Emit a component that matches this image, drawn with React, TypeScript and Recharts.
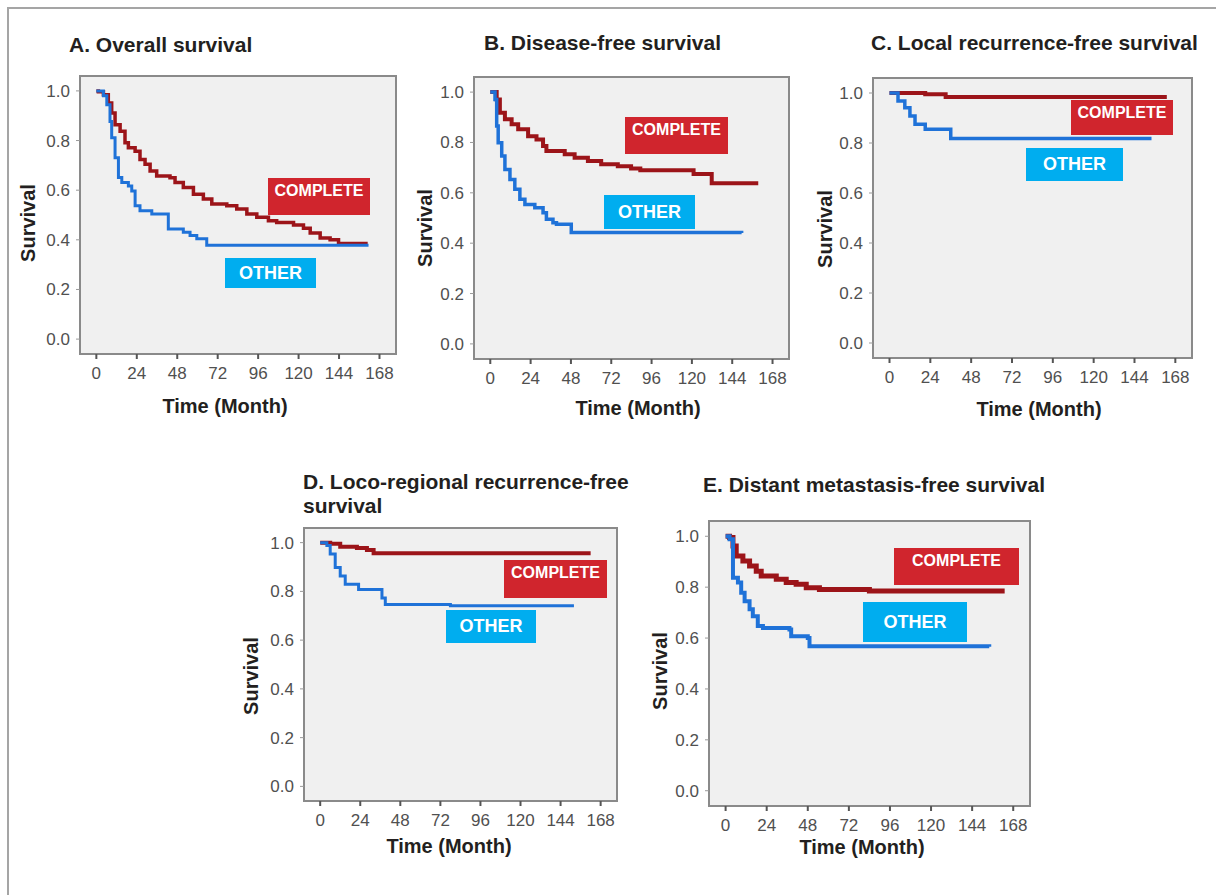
import React from 'react';
import { LineChart, Line, XAxis, YAxis, ReferenceArea } from 'recharts';

// shared axis ticks
const timeTicks = [0, 24, 48, 72, 96, 120, 144, 168];
const survivalTicks = [0, 0.2, 0.4, 0.6, 0.8, 1.0];
const X_MIN = -9.7;
const X_MAX = 177.8;
const Y_MIN = -0.06;
const Y_MAX = 1.06;

// A. Overall survival
const osCompleteTime = [0, 1.2, 4.2, 7.1, 9.1, 11.1, 14.1, 17, 19, 23, 25.9, 28.9, 31.9, 35.8, 43.7, 46.7, 51.6, 57.6, 63.5, 68.5, 77.4, 83.3, 89.3, 95.2, 102.1, 107, 117, 122.9, 126.9, 132.8, 138.7, 143.7, 161];
const osCompleteSurv = [1.0, 0.997, 0.984, 0.951, 0.911, 0.864, 0.837, 0.791, 0.771, 0.757, 0.724, 0.704, 0.677, 0.657, 0.65, 0.631, 0.611, 0.584, 0.564, 0.544, 0.537, 0.524, 0.504, 0.491, 0.477, 0.47, 0.46, 0.447, 0.427, 0.407, 0.4, 0.385, 0.385];
const osOtherTime = [0, 4.2, 6.2, 8.1, 9.1, 11.1, 13.1, 15.1, 19, 21, 23, 25.9, 32.9, 42.7, 51.6, 55.6, 59.6, 65.5, 161.5];
const osOtherSurv = [1.0, 0.98, 0.944, 0.877, 0.811, 0.731, 0.651, 0.631, 0.617, 0.597, 0.537, 0.517, 0.504, 0.444, 0.431, 0.417, 0.404, 0.378, 0.378];

// B. Disease-free survival
const dfsCompleteTime = [0, 3.8, 5.7, 8.7, 12.7, 16.6, 22.5, 27.5, 31.4, 33.4, 44.3, 50.2, 58.1, 66, 75.9, 83.8, 89.3, 121, 131.8, 159.5];
const dfsCompleteSurv = [1.0, 0.971, 0.918, 0.892, 0.872, 0.852, 0.825, 0.812, 0.786, 0.766, 0.753, 0.739, 0.726, 0.713, 0.706, 0.697, 0.69, 0.675, 0.638, 0.638];
const dfsOtherTime = [0, 2.8, 3.8, 4.7, 6.8, 8.7, 11.7, 14.6, 17.6, 20.6, 26.5, 31.4, 33.4, 37.3, 39.4, 48.2, 149.6];
const dfsOtherSurv = [1.0, 0.971, 0.865, 0.799, 0.746, 0.693, 0.653, 0.614, 0.574, 0.554, 0.541, 0.521, 0.495, 0.481, 0.475, 0.442, 0.44];

// C. Local recurrence-free survival
const lrfsCompleteTime = [0, 21, 33, 163];
const lrfsCompleteSurv = [1.0, 0.995, 0.984, 0.984];
const lrfsOtherTime = [0, 5, 9, 12, 15, 21, 36, 154];
const lrfsOtherSurv = [1.0, 0.968, 0.941, 0.908, 0.875, 0.855, 0.818, 0.818];

// D. Loco-regional recurrence-free survival
const lrrfsCompleteTime = [0, 6, 12, 22, 28, 32, 162];
const lrrfsCompleteSurv = [1.0, 0.995, 0.983, 0.978, 0.97, 0.956, 0.956];
const lrrfsOtherTime = [0, 4, 6, 9, 12, 15, 23, 37, 39, 78, 152];
const lrrfsOtherSurv = [1.0, 0.988, 0.953, 0.898, 0.863, 0.829, 0.808, 0.773, 0.746, 0.741, 0.741];

// E. Distant metastasis-free survival
const dmfsCompleteTime = [0, 2.3, 4.3, 6.2, 10.1, 14, 17.9, 20.8, 29.6, 35.4, 41.2, 47.1, 54.8, 84, 163];
const dmfsCompleteSurv = [1.0, 0.995, 0.962, 0.922, 0.903, 0.883, 0.863, 0.844, 0.831, 0.818, 0.811, 0.798, 0.791, 0.785, 0.785];
const dmfsOtherTime = [0, 2.3, 4.3, 7.2, 9.1, 11.1, 14, 15.9, 18.8, 21.8, 37.3, 38.3, 48, 49, 154];
const dmfsOtherSurv = [1.0, 0.988, 0.837, 0.818, 0.778, 0.745, 0.713, 0.686, 0.647, 0.64, 0.634, 0.607, 0.6, 0.568, 0.566];

const zip = (t: number[], s: number[]) => t.map((v, i) => ({ t: v, s: s[i] }));

const FONT = "'Liberation Sans', Arial, Helvetica, sans-serif";
const COMPLETE_LINE = '#9c1419';
const OTHER_LINE = '#1f72d8';
const COMPLETE_TAG = '#d0252d';
const OTHER_TAG = '#00adef';

const Y_AXIS_W = 60;
const X_AXIS_H = 40;
const PAD = 2;

interface Box { x: number; y: number; w: number; h: number }
interface Tag { x1: number; x2: number; y1: number; y2: number }

interface PanelProps {
  title: string[];
  titleX: number;
  titleY: number;
  box: Box;
  survival: [number, number];
  time: [number, number];
  complete: { t: number; s: number }[];
  other: { t: number; s: number }[];
  completeTag: Tag;
  otherTag: Tag;
  lineW: number;
  otherW: number;
}

const panels: PanelProps[] = [
  {
    title: ['A. Overall survival'], titleX: 69, titleY: 45,
    box: { x: 80, y: 76, w: 316, h: 278 }, survival: [28, 223], time: [225, 406],
    complete: zip(osCompleteTime, osCompleteSurv), other: zip(osOtherTime, osOtherSurv),
    completeTag: { x1: 268, x2: 370, y1: 178, y2: 215 }, otherTag: { x1: 225, x2: 316, y1: 258, y2: 288 },
    lineW: 3.5, otherW: 3,
  },
  {
    title: ['B. Disease-free survival'], titleX: 484, titleY: 43,
    box: { x: 474, y: 77, w: 315, h: 282 }, survival: [425, 228], time: [638, 408],
    complete: zip(dfsCompleteTime, dfsCompleteSurv), other: zip(dfsOtherTime, dfsOtherSurv),
    completeTag: { x1: 625, x2: 728, y1: 117, y2: 154 }, otherTag: { x1: 604, x2: 695, y1: 195, y2: 229 },
    lineW: 4, otherW: 3.5,
  },
  {
    title: ['C. Local recurrence-free survival'], titleX: 871, titleY: 43,
    box: { x: 873, y: 78, w: 319, h: 280 }, survival: [825, 229], time: [1039, 409],
    complete: zip(lrfsCompleteTime, lrfsCompleteSurv), other: zip(lrfsOtherTime, lrfsOtherSurv),
    completeTag: { x1: 1071, x2: 1173, y1: 100, y2: 135 }, otherTag: { x1: 1026, x2: 1123, y1: 148, y2: 181 },
    lineW: 4, otherW: 3.5,
  },
  {
    title: ['D. Loco-regional recurrence-free', 'survival'], titleX: 303, titleY: 482,
    box: { x: 304, y: 528, w: 313, h: 273 }, survival: [251, 676], time: [449, 846],
    complete: zip(lrrfsCompleteTime, lrrfsCompleteSurv), other: zip(lrrfsOtherTime, lrrfsOtherSurv),
    completeTag: { x1: 504, x2: 607, y1: 560, y2: 598 }, otherTag: { x1: 446, x2: 536, y1: 610, y2: 643 },
    lineW: 4, otherW: 3,
  },
  {
    title: ['E. Distant metastasis-free survival'], titleX: 703, titleY: 485,
    box: { x: 709, y: 521, w: 321, h: 285 }, survival: [660, 671], time: [862, 847],
    complete: zip(dmfsCompleteTime, dmfsCompleteSurv), other: zip(dmfsOtherTime, dmfsOtherSurv),
    completeTag: { x1: 894, x2: 1019, y1: 548, y2: 585 }, otherTag: { x1: 863, x2: 967, y1: 602, y2: 642 },
    lineW: 5, otherW: 4,
  },
];

const tickStyle = { fontFamily: FONT, fontSize: 17, fill: '#505050' };

const KmPanel = ({ p }: { p: PanelProps }) => {
  const { box } = p;
  return (
    <>
      {p.title.map((line, i) => (
        <div
          key={line}
          style={{
            position: 'absolute', left: p.titleX, top: p.titleY - 12 + i * 24, lineHeight: '24px',
            fontSize: 21, fontWeight: 700, color: '#231f20', whiteSpace: 'nowrap',
          }}
        >
          {line}
        </div>
      ))}
      <div style={{ position: 'absolute', left: box.x - Y_AXIS_W, top: box.y - PAD }}>
        <LineChart
          width={box.w + Y_AXIS_W + PAD}
          height={box.h + X_AXIS_H + PAD}
          margin={{ top: PAD, right: PAD, left: 0, bottom: 0 }}
        >
          <XAxis
            type="number"
            dataKey="t"
            domain={[X_MIN, X_MAX]}
            ticks={timeTicks}
            allowDataOverflow
            height={X_AXIS_H}
            axisLine={false}
            tickSize={5}
            tickMargin={8}
            tickLine={{ stroke: '#555', strokeWidth: 2 }}
            tick={tickStyle}
            interval={0}
          />
          <YAxis
            type="number"
            domain={[Y_MIN, Y_MAX]}
            ticks={survivalTicks}
            allowDataOverflow
            width={Y_AXIS_W}
            axisLine={false}
            tickSize={4}
            tickMargin={6}
            tickLine={{ stroke: '#999', strokeWidth: 1 }}
            tick={tickStyle}
            tickFormatter={(v: number) => v.toFixed(1)}
            interval={0}
          />
          <ReferenceArea
            x1={X_MIN}
            x2={X_MAX}
            y1={Y_MIN}
            y2={Y_MAX}
            fill="#f0f0f0"
            fillOpacity={1}
            stroke="#8a8a8a"
            strokeWidth={2}
          />
          <Line
            data={p.complete}
            dataKey="s"
            type="stepAfter"
            stroke={COMPLETE_LINE}
            strokeWidth={p.lineW}
            dot={false}
            isAnimationActive={false}
          />
          <Line
            data={p.other}
            dataKey="s"
            type="stepAfter"
            stroke={OTHER_LINE}
            strokeWidth={p.otherW}
            dot={false}
            isAnimationActive={false}
          />
        </LineChart>
      </div>
      {/* group tags */}
      <div
        style={{
          position: 'absolute', left: p.completeTag.x1, top: p.completeTag.y1,
          width: p.completeTag.x2 - p.completeTag.x1, height: p.completeTag.y2 - p.completeTag.y1,
          background: COMPLETE_TAG, color: '#fff', fontSize: 16, fontWeight: 700,
          textAlign: 'center', lineHeight: '20px', paddingTop: 3, boxSizing: 'border-box',
        }}
      >
        COMPLETE
      </div>
      <div
        style={{
          position: 'absolute', left: p.otherTag.x1, top: p.otherTag.y1,
          width: p.otherTag.x2 - p.otherTag.x1, height: p.otherTag.y2 - p.otherTag.y1,
          background: OTHER_TAG, color: '#fff', fontSize: 18, fontWeight: 700,
          textAlign: 'center', lineHeight: `${p.otherTag.y2 - p.otherTag.y1}px`,
        }}
      >
        OTHER
      </div>
      {/* axis titles */}
      <div
        style={{
          position: 'absolute', left: p.survival[0] - 60, top: p.survival[1] - 12, width: 120,
          lineHeight: '24px', textAlign: 'center', fontSize: 20, fontWeight: 700, color: '#231f20',
          transform: 'rotate(-90deg)',
        }}
      >
        Survival
      </div>
      <div
        style={{
          position: 'absolute', left: p.time[0] - 100, top: p.time[1] - 12, width: 200,
          lineHeight: '24px', textAlign: 'center', fontSize: 20, fontWeight: 700, color: '#231f20',
        }}
      >
        Time (Month)
      </div>
    </>
  );
};

const App = () => (
  <div
    style={{
      position: 'absolute', left: 0, top: 0, width: 1216, height: 895, overflow: 'hidden',
      background: '#fff', fontFamily: FONT,
    }}
  >
    <div
      style={{
        position: 'absolute', left: 7, top: 7, width: 1230, height: 910,
        border: '2px solid #a5a5a5',
      }}
    />
    {panels.map((p) => (
      <KmPanel key={p.title[0]} p={p} />
    ))}
  </div>
);

export default App;
